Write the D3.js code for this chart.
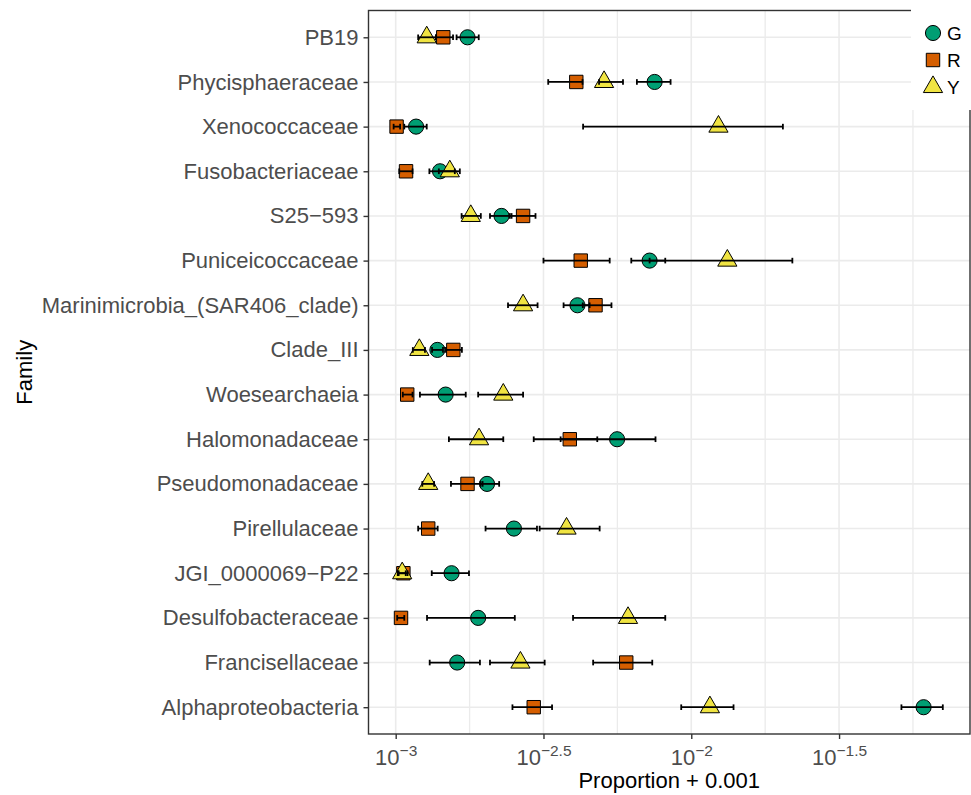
<!DOCTYPE html>
<html>
<head>
<meta charset="utf-8">
<script src="https://cdn.jsdelivr.net/npm/d3@7"></script>
<style>
  body { margin: 0; background: #fff; }
  text { font-family: "Liberation Sans", Arial, sans-serif; }
</style>
</head>
<body>
<div id="chart"></div>
<script>
// families, top to bottom
const families = ["PB19", "Phycisphaeraceae", "Xenococcaceae", "Fusobacteriaceae", "S25\u2212593",
    "Puniceicoccaceae", "Marinimicrobia_(SAR406_clade)", "Clade_III", "Woesearchaeia", "Halomonadaceae",
    "Pseudomonadaceae", "Pirellulaceae", "JGI_0000069\u2212P22", "Desulfobacteraceae", "Francisellaceae",
    "Alphaproteobacteria"];
const groups = ["G", "R", "Y"];
const groupColors = ["#009E73", "#D55E00", "#F0E442"];

// values as log10(proportion + 0.001)
const gMean = [-2.757, -2.124, -2.931, -2.850, -2.642, -2.141, -2.385, -2.859, -2.831, -2.251, -2.691, -2.600, -2.811, -2.721, -2.792, -1.214];
const gLow  = [-2.794, -2.184, -2.971, -2.886, -2.681, -2.203, -2.432, -2.877, -2.918, -2.442, -2.713, -2.696, -2.878, -2.894, -2.885, -1.289];
const gHigh = [-2.719, -2.070, -2.895, -2.800, -2.608, -2.088, -2.344, -2.840, -2.763, -2.121, -2.650, -2.522, -2.752, -2.597, -2.715, -1.149];

const rMean = [-2.839, -2.389, -2.997, -2.965, -2.569, -2.374, -2.324, -2.805, -2.961, -2.411, -2.757, -2.890, -2.974, -2.982, -2.220, -2.533];
const rLow  = [-2.864, -2.484, -3.007, -2.988, -2.614, -2.500, -2.367, -2.830, -2.976, -2.533, -2.813, -2.924, -2.990, -2.995, -2.332, -2.605];
const rHigh = [-2.806, -2.368, -2.985, -2.943, -2.527, -2.276, -2.270, -2.776, -2.943, -2.318, -2.706, -2.858, -2.960, -2.971, -2.132, -2.471];

const yMean = [-2.895, -2.295, -1.908, -2.817, -2.746, -1.878, -2.569, -2.920, -2.636, -2.718, -2.890, -2.422, -2.978, -2.214, -2.578, -1.937];
const yLow  = [-2.924, -2.312, -2.366, -2.854, -2.777, -2.141, -2.620, -2.942, -2.721, -2.820, -2.910, -2.513, -2.993, -2.400, -2.681, -2.034];
const yHigh = [-2.864, -2.231, -1.690, -2.783, -2.712, -1.658, -2.520, -2.901, -2.569, -2.636, -2.870, -2.310, -2.966, -2.088, -2.496, -1.857];

const xTickExp = [-3, -2.5, -2, -1.5];
const xTickLabels = ["\u22123", "\u22122.5", "\u22122", "\u22121.5"];
const xMinorExp = [-2.75, -2.25, -1.75, -1.25];

const width = 971, height = 795;
const panel = { left: 368.5, right: 970, top: 10.5, bottom: 734 };

const svg = d3.select("#chart").append("svg")
    .attr("width", width)
    .attr("height", height);

// scales
const x = d3.scaleLog()
    .domain([Math.pow(10, -3.092), Math.pow(10, -1.057)])
    .range([panel.left, panel.right]);

const y = d3.scalePoint()
    .domain(families)
    .range([panel.top, panel.bottom])
    .padding(0.6);

// build rows
const rows = [];
const series = [[gMean, gLow, gHigh], [rMean, rLow, rHigh], [yMean, yLow, yHigh]];
groups.forEach((g, gi) => {
    families.forEach((f, i) => {
        rows.push({
            family: f, group: g, gi: gi,
            mean: Math.pow(10, series[gi][0][i]),
            low: Math.pow(10, series[gi][1][i]),
            high: Math.pow(10, series[gi][2][i])
        });
    });
});

// grid
const grid = svg.append("g");
grid.selectAll(".minor")
    .data(xMinorExp)
    .enter().append("line")
    .attr("x1", d => x(Math.pow(10, d)))
    .attr("x2", d => x(Math.pow(10, d)))
    .attr("y1", panel.top).attr("y2", panel.bottom)
    .attr("stroke", "#ebebeb").attr("stroke-width", 1.3);
grid.selectAll(".major")
    .data(xTickExp)
    .enter().append("line")
    .attr("x1", d => x(Math.pow(10, d)))
    .attr("x2", d => x(Math.pow(10, d)))
    .attr("y1", panel.top).attr("y2", panel.bottom)
    .attr("stroke", "#ebebeb").attr("stroke-width", 1.6);
grid.selectAll(".hline")
    .data(families)
    .enter().append("line")
    .attr("x1", panel.left).attr("x2", panel.right)
    .attr("y1", d => y(d)).attr("y2", d => y(d))
    .attr("stroke", "#ebebeb").attr("stroke-width", 1.6);

// points
const shapes = [
    d3.symbol().type(d3.symbolCircle).size(180),
    d3.symbol().type(d3.symbolSquare).size(180),
    d3.symbol().type(d3.symbolTriangle).size(160)
];

svg.append("g")
    .selectAll("path")
    .data(rows)
    .enter().append("path")
    .attr("transform", d => "translate(" + x(d.mean) + "," + y(d.family) + ")")
    .attr("d", d => shapes[d.gi]())
    .attr("fill", d => groupColors[d.gi])
    .attr("stroke", "#000")
    .attr("stroke-width", 1);

// error bars
const bars = svg.append("g")
    .attr("stroke", "#000")
    .attr("stroke-width", 1.8);
const cap = 2.8;
const eb = bars.selectAll("g")
    .data(rows)
    .enter().append("g");
eb.append("line")
    .attr("x1", d => x(d.low)).attr("x2", d => x(d.high))
    .attr("y1", d => y(d.family)).attr("y2", d => y(d.family));
eb.append("line")
    .attr("x1", d => x(d.low)).attr("x2", d => x(d.low))
    .attr("y1", d => y(d.family) - cap).attr("y2", d => y(d.family) + cap);
eb.append("line")
    .attr("x1", d => x(d.high)).attr("x2", d => x(d.high))
    .attr("y1", d => y(d.family) - cap).attr("y2", d => y(d.family) + cap);

// panel border
svg.append("rect")
    .attr("x", panel.left).attr("y", panel.top)
    .attr("width", panel.right - panel.left)
    .attr("height", panel.bottom - panel.top)
    .attr("fill", "none")
    .attr("stroke", "#333")
    .attr("stroke-width", 1.4);

// y axis
const yAxis = svg.append("g")
    .attr("transform", "translate(" + panel.left + ",0)")
    .call(d3.axisLeft(y).tickSize(5).tickPadding(5));
yAxis.select(".domain").remove();
yAxis.selectAll(".tick line").attr("stroke", "#333").attr("stroke-width", 1.4);
yAxis.selectAll(".tick text")
    .attr("fill", "#4d4d4d")
    .style("font-size", "22px")
    .style("font-family", "'Liberation Sans', Arial, sans-serif");

// x axis
const xAxis = svg.append("g")
    .attr("transform", "translate(0," + panel.bottom + ")")
    .call(d3.axisBottom(x)
        .tickValues(xTickExp.map(e => Math.pow(10, e)))
        .tickSize(5)
        .tickFormat(""));
xAxis.select(".domain").remove();
xAxis.selectAll(".tick line").attr("stroke", "#333").attr("stroke-width", 1.4);
xAxis.selectAll(".tick").each(function (d, i) {
    const t = d3.select(this).append("text")
        .attr("y", 31)
        .attr("fill", "#4d4d4d")
        .attr("text-anchor", "middle")
        .style("font-size", "22px");
    t.append("tspan").text("10");
    t.append("tspan")
        .attr("dy", "-9")
        .style("font-size", "15.5px")
        .text(xTickLabels[i]);
});

// axis titles
svg.append("text")
    .attr("x", (panel.left + panel.right) / 2)
    .attr("y", 788)
    .attr("text-anchor", "middle")
    .style("font-size", "22px")
    .text("Proportion + 0.001");

svg.append("text")
    .attr("transform", "translate(32," + (panel.top + panel.bottom) / 2 + ") rotate(-90)")
    .attr("text-anchor", "middle")
    .style("font-size", "22px")
    .text("Family");

// legend
const legend = svg.append("g");
legend.append("rect")
    .attr("x", 911).attr("y", 0)
    .attr("width", 60).attr("height", 110)
    .attr("fill", "#fff");
const legendItems = legend.selectAll(".item")
    .data(groups)
    .enter().append("g")
    .attr("transform", (d, i) => "translate(933," + (33 + i * 27) + ")");
legendItems.append("path")
    .attr("d", (d, i) => shapes[i]())
    .attr("fill", (d, i) => groupColors[i])
    .attr("stroke", "#000")
    .attr("stroke-width", 1);
legendItems.append("text")
    .attr("x", 14)
    .attr("y", 7)
    .style("font-size", "19px")
    .text(d => d);
</script>
</body>
</html>
